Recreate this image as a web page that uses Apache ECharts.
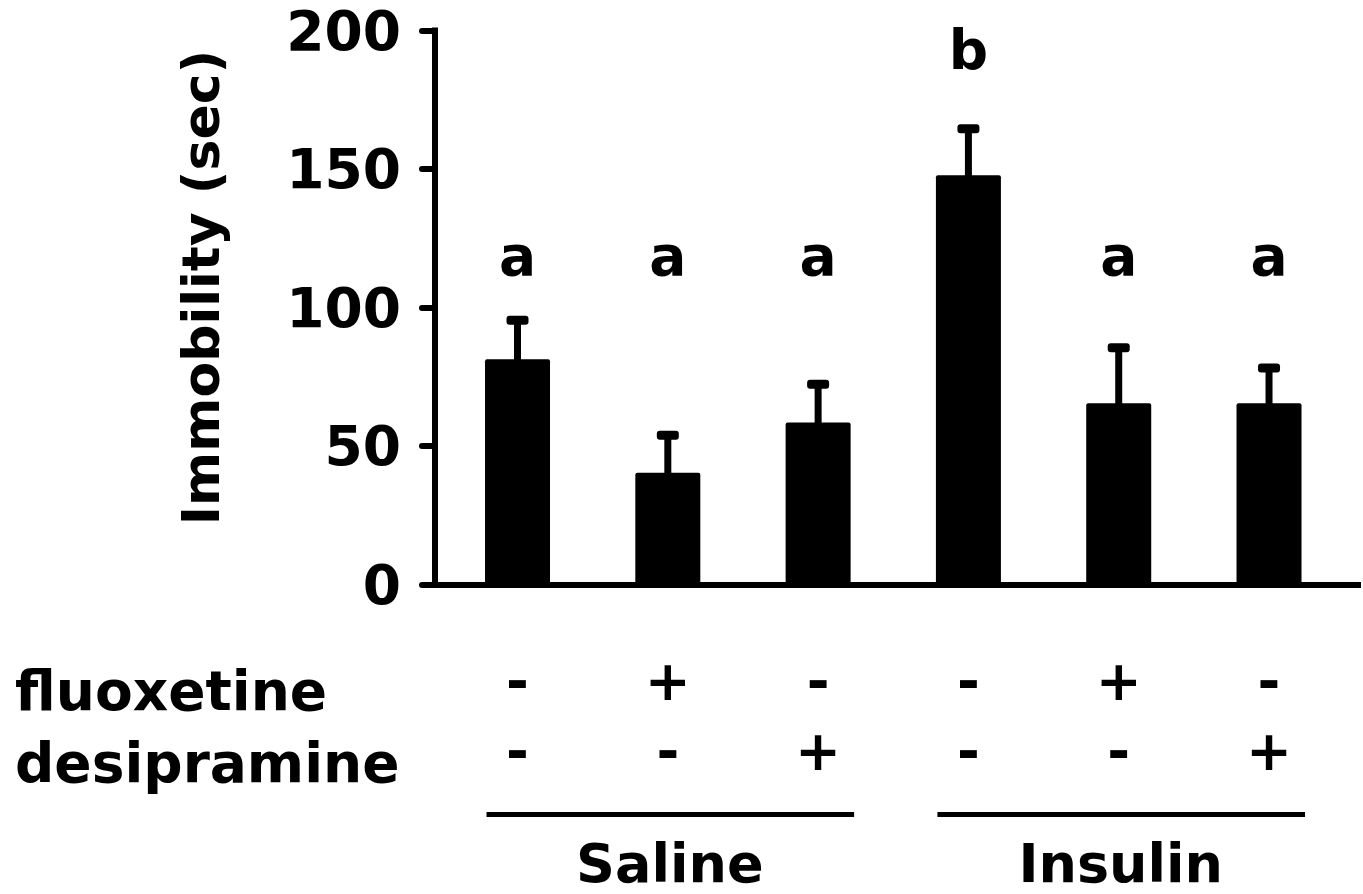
<!DOCTYPE html>
<html><head><meta charset="utf-8">
<script src="https://cdn.jsdelivr.net/npm/echarts@6/dist/echarts.min.js"></script>
<style>html,body{margin:0;padding:0;background:#fff}#chart{width:1363px;height:894px}</style>
</head><body><div id="chart"></div>
<script>
// ---- data ----
const groupNames = ['Saline', 'Insulin'];
const groupOf = [0, 0, 0, 1, 1, 1];
const fluoxetine = ['-', '+', '-', '-', '+', '-'];
const desipramine = ['-', '-', '+', '-', '-', '+'];
const immobility = [81.3, 40.3, 58.5, 147.7, 65.4, 65.4];
const sem = [14.1, 13.6, 13.8, 16.8, 20.1, 12.8];
const letters = ['a', 'a', 'a', 'b', 'a', 'a'];
const yTicks = [0, 50, 100, 150, 200];
const yTitle = 'Immobility (sec)';
const rowLabels = ['fluoxetine', 'desipramine'];

// ---- style ----
const FAMILY = '"DejaVu Sans", Verdana, sans-serif';
const FS = 55;
const FONT = 'bold ' + FS + 'px ' + FAMILY;
const letterLevel = { a: 118.5, b: 193 };

const chart = echarts.init(document.getElementById('chart'), null, { renderer: 'svg' });

const idx = immobility.map((_, i) => i);
const groupData = groupNames.map((g, k) => {
  const members = idx.filter(i => groupOf[i] === k);
  return [members[0], members[members.length - 1], 0];
});

function txt(x, y, text, align, lh, font) {
  const st = {
    x: x, y: y, text: text, font: font || FONT, fill: '#000',
    align: align || 'center', textAlign: align || 'center',
    verticalAlign: 'middle', textVerticalAlign: 'middle'
  };
  if (lh) st.lineHeight = lh;
  return { type: 'text', style: st };
}

chart.setOption({
  animation: false,
  backgroundColor: '#fff',
  grid: { left: 435, right: 5, top: 30.5, bottom: 309.5, containLabel: false, outerBoundsMode: 'none' },
  xAxis: {
    type: 'value', min: -0.549, max: 5.592,
    axisLine: { show: true, onZero: false, lineStyle: { color: '#000', width: 6, cap: 'square' } },
    axisTick: { show: false }, axisLabel: { show: false }, splitLine: { show: false }
  },
  yAxis: {
    type: 'value',
    min: yTicks[0], max: yTicks[yTicks.length - 1], interval: yTicks[1] - yTicks[0],
    axisLine: { show: true, onZero: false, lineStyle: { color: '#000', width: 6, cap: 'square' } },
    axisTick: { show: true, length: 13, lineStyle: { color: '#000', width: 6, cap: 'round' } },
    axisLabel: { color: '#000', fontSize: FS, fontWeight: 'bold', fontFamily: FAMILY, margin: 34 },
    splitLine: { show: false }
  },
  graphic: [
    { type: 'text', x: 201, y: 287.5, rotation: Math.PI / 2,
      style: { text: yTitle, font: 'bold 52px ' + FAMILY, fill: '#000',
        align: 'center', textAlign: 'center', verticalAlign: 'middle', textVerticalAlign: 'middle' } },
    { type: 'text', x: 15, y: 691,
      style: { text: rowLabels[0], font: FONT, fill: '#000', align: 'left', textAlign: 'left', verticalAlign: 'middle', textVerticalAlign: 'middle' } },
    { type: 'text', x: 15, y: 763,
      style: { text: rowLabels[1], font: FONT, fill: '#000', align: 'left', textAlign: 'left', verticalAlign: 'middle', textVerticalAlign: 'middle' } }
  ],
  series: [
    {
      type: 'bar',
      data: immobility.map((v, i) => [i, v]),
      barWidth: 65,
      itemStyle: { color: '#000', borderRadius: 2 },
      silent: true
    },
    {
      type: 'custom', clip: false, silent: true,
      data: immobility.map((v, i) => [i, v, sem[i]]),
      encode: { x: 0, y: 1 },
      renderItem: function (params, api) {
        const i = api.value(0), m = api.value(1), e = api.value(2);
        const base = api.coord([i, m]);
        const top = api.coord([i, m + e]);
        return {
          type: 'group',
          children: [
            { type: 'rect', shape: { x: base[0] - 3.5, y: top[1], width: 7, height: base[1] - top[1] + 2 }, style: { fill: '#000' } },
            { type: 'rect', shape: { x: top[0] - 11, y: top[1] - 4.5, width: 22, height: 9, r: 3 }, style: { fill: '#000' } }
          ]
        };
      }
    },
    {
      type: 'custom', clip: false, silent: true,
      data: letters.map((l, i) => [i, letterLevel[l]]),
      encode: { x: 0, y: 1 },
      renderItem: function (params, api) {
        const p = api.coord([api.value(0), api.value(1)]);
        return txt(p[0], p[1], letters[params.dataIndex]);
      }
    },
    {
      type: 'custom', clip: false, silent: true,
      data: idx.map(i => [i, 0]),
      encode: { x: 0, y: 1 },
      renderItem: function (params, api) {
        const p = api.coord([api.value(0), 0]);
        const i = params.dataIndex;
        return {
          type: 'group',
          children: [
            txt(p[0], p[1] + 96, fluoxetine[i]),
            txt(p[0], p[1] + 166, desipramine[i])
          ]
        };
      }
    },
    {
      type: 'custom', clip: false, silent: true,
      data: groupData,
      encode: { x: [0, 1], y: 2 },
      renderItem: function (params, api) {
        const a = api.coord([api.value(0), 0]);
        const b = api.coord([api.value(1), 0]);
        return {
          type: 'group',
          children: [
            { type: 'line', shape: { x1: a[0] - 31, y1: a[1] + 230, x2: b[0] + 36, y2: a[1] + 230 },
              style: { stroke: '#000', lineWidth: 5 } },
            txt((a[0] + b[0]) / 2 + 2, a[1] + 279, groupNames[params.dataIndex], 'center', 40, 'bold 54px ' + FAMILY)
          ]
        };
      }
    }
  ]
});
</script>
</body></html>
